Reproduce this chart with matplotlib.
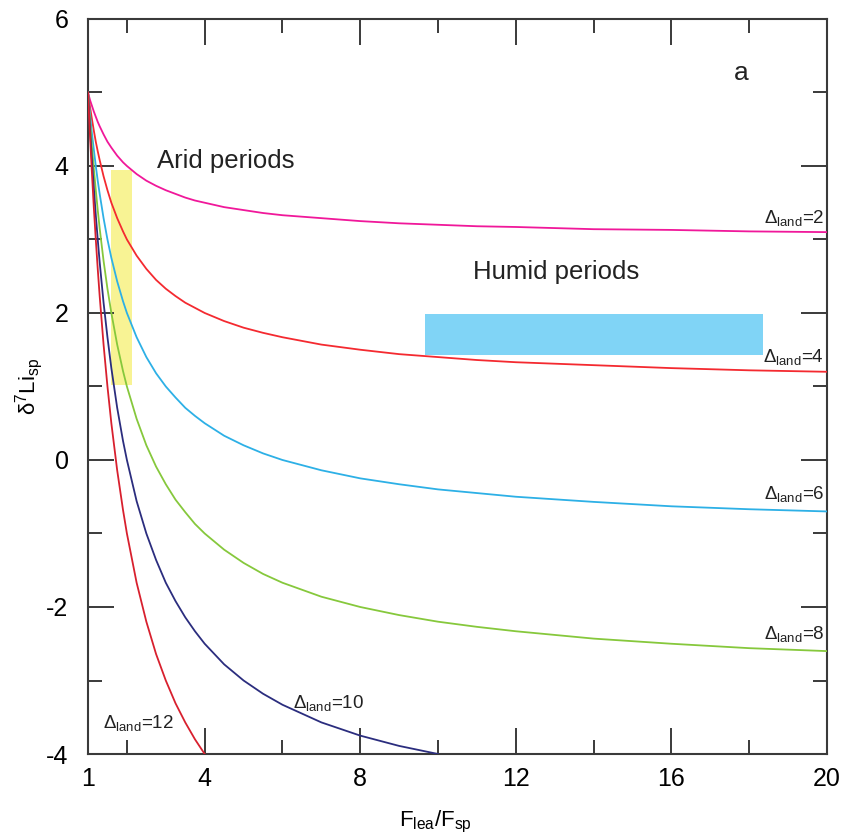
import numpy as np
import matplotlib
matplotlib.use("Agg")
import matplotlib.pyplot as plt

plt.rcParams['font.family'] = ['Liberation Sans', 'DejaVu Sans']
plt.rcParams['mathtext.fontset'] = 'custom'
plt.rcParams['mathtext.rm'] = 'Liberation Sans'
plt.rcParams['mathtext.it'] = 'Liberation Sans:italic'
plt.rcParams['mathtext.sf'] = 'Liberation Sans'
plt.rcParams['mathtext.default'] = 'rm'

# ---- data ----
f_ratio = [1, 1.02, 1.05, 1.1, 1.15, 1.2, 1.25, 1.3, 1.4, 1.5,
           1.6, 1.75, 1.9, 2, 2.25, 2.5, 2.75, 3, 3.25, 3.5,
           3.75, 4, 4.5, 5, 5.5, 6, 7, 8, 9, 10,
           11, 12, 14, 16, 18, 20]
d_land2 = [5, 4.96, 4.90, 4.82, 4.74, 4.67, 4.60, 4.54, 4.43, 4.33,
           4.25, 4.14, 4.05, 4.00, 3.89, 3.80, 3.73, 3.67, 3.62, 3.57,
           3.53, 3.50, 3.44, 3.40, 3.36, 3.33, 3.29, 3.25, 3.22, 3.20,
           3.18, 3.17, 3.14, 3.13, 3.11, 3.10]
d_land4 = [5, 4.92, 4.81, 4.64, 4.48, 4.33, 4.20, 4.08, 3.86, 3.67,
           3.50, 3.29, 3.11, 3.00, 2.78, 2.60, 2.45, 2.33, 2.23, 2.14,
           2.07, 2.00, 1.89, 1.80, 1.73, 1.67, 1.57, 1.50, 1.44, 1.40,
           1.36, 1.33, 1.29, 1.25, 1.22, 1.20]
d_land6 = [5, 4.88, 4.71, 4.45, 4.22, 4.00, 3.80, 3.62, 3.29, 3.00,
           2.75, 2.43, 2.16, 2.00, 1.67, 1.40, 1.18, 1.00, 0.85, 0.71,
           0.60, 0.50, 0.33, 0.20, 0.09, 0.00, -0.14, -0.25, -0.33, -0.40,
           -0.45, -0.50, -0.57, -0.63, -0.67, -0.70]
d_land8 = [5, 4.84, 4.62, 4.27, 3.96, 3.67, 3.40, 3.15, 2.71, 2.33,
           2.00, 1.57, 1.21, 1.00, 0.56, 0.20, -0.09, -0.33, -0.54, -0.71,
           -0.87, -1.00, -1.22, -1.40, -1.55, -1.67, -1.86, -2.00, -2.11, -2.20,
           -2.27, -2.33, -2.43, -2.50, -2.56, -2.60]
d_land10 = [5, 4.80, 4.52, 4.09, 3.70, 3.33, 3.00, 2.69, 2.14, 1.67,
            1.25, 0.71, 0.26, 0.00, -0.56, -1.00, -1.36, -1.67, -1.92, -2.14,
            -2.33, -2.50, -2.78, -3.00, -3.18, -3.33, -3.57, -3.75, -3.89, -4.00,
            None, None, None, None, None, None]
d_land12 = [5, 4.76, 4.43, 3.91, 3.43, 3.00, 2.60, 2.23, 1.57, 1.00,
            0.50, -0.14, -0.68, -1.00, -1.67, -2.20, -2.64, -3.00, -3.31, -3.57,
            -3.80, -4.00, None, None, None, None, None, None, None, None,
            None, None, None, None, None, None]

delta_labels = ['2', '4', '6', '8', '10', '12']
series = [d_land2, d_land4, d_land6, d_land8, d_land10, d_land12]
colors = ['#f0189a', '#f42a30', '#2db0e6', '#86c83c', '#2b2d7e', '#d8202e']

arid_x = [1.58, 2.12]
arid_y = [1.02, 3.95]
humid_x = [9.67, 18.35]
humid_y = [1.43, 1.99]

x_ticks = [1, 4, 8, 12, 16, 20]
x_minor = [2, 6, 10, 14, 18]
y_ticks = [-4, -2, 0, 2, 4, 6]
y_minor = [-3, -1, 1, 3, 5]

# ---- figure ----
fig = plt.figure(figsize=(8.43, 8.39), dpi=100)
ax = fig.add_axes([0.1044, 0.1013, 0.8766, 0.8761])

ax.add_patch(plt.Rectangle((arid_x[0], arid_y[0]), arid_x[1] - arid_x[0], arid_y[1] - arid_y[0],
                           facecolor='#f8f394', edgecolor='none', zorder=1))
ax.add_patch(plt.Rectangle((humid_x[0], humid_y[0]), humid_x[1] - humid_x[0], humid_y[1] - humid_y[0],
                           facecolor='#80d4f6', edgecolor='none', zorder=1))

xs = np.array(f_ratio, dtype=float)
for ys, c in zip(series, colors):
    yv = np.array([np.nan if v is None else v for v in ys], dtype=float)
    ax.plot(xs, yv, color=c, lw=1.3, zorder=3, solid_joinstyle='round')

ax.set_xlim(1, 20)
ax.set_ylim(-4, 6)
ax.set_xticks(x_ticks)
ax.set_xticks(x_minor, minor=True)
ax.set_yticks(y_ticks)
ax.set_yticks(y_minor, minor=True)
ax.set_xticklabels([str(t) for t in x_ticks])
ax.set_yticklabels([str(t) for t in y_ticks])

spine_c = '#3a3a3a'
for s in ax.spines.values():
    s.set_color(spine_c)
    s.set_linewidth(1.5)
ax.tick_params(which='both', direction='in', top=True, right=True, color=spine_c, width=1.4)
ax.tick_params(which='major', length=18.5, labelsize=18)
ax.tick_params(axis='y', which='major', pad=14)
ax.tick_params(axis='x', which='major', pad=9)
ax.tick_params(which='minor', length=10)

ax.set_xlabel(r'F$_{\rm lea}$/F$_{\rm sp}$', fontsize=16)
ax.xaxis.set_label_coords(0.47, -0.075)
ax.set_ylabel(r'$\delta^{7}$Li$_{\rm sp}$', fontsize=16)
ax.yaxis.set_label_coords(-0.058, 0.5)

ax.text(2.77, 4.07, 'Arid periods', fontsize=18.5, va='center', ha='left', color='#222222')
ax.text(13.03, 2.56, 'Humid periods', fontsize=18.5, va='center', ha='center', color='#222222')
ax.text(17.8, 5.27, 'a', fontsize=19, va='center', ha='center', color='#222222')

lab_pos = [(19.93, 3.22, 'right'), (19.93, 1.33, 'right'), (19.93, -0.53, 'right'),
           (19.93, -2.43, 'right'), (6.27, -3.37, 'left'), (1.39, -3.65, 'left')]
for d, (lx, ly, ha) in zip(delta_labels, lab_pos):
    ax.text(lx, ly, r'$\Delta_{\rm land}$=' + d, fontsize=13.5, ha=ha, va='baseline',
            color='#222222', zorder=4)

fig.savefig('out.png', dpi=100)
